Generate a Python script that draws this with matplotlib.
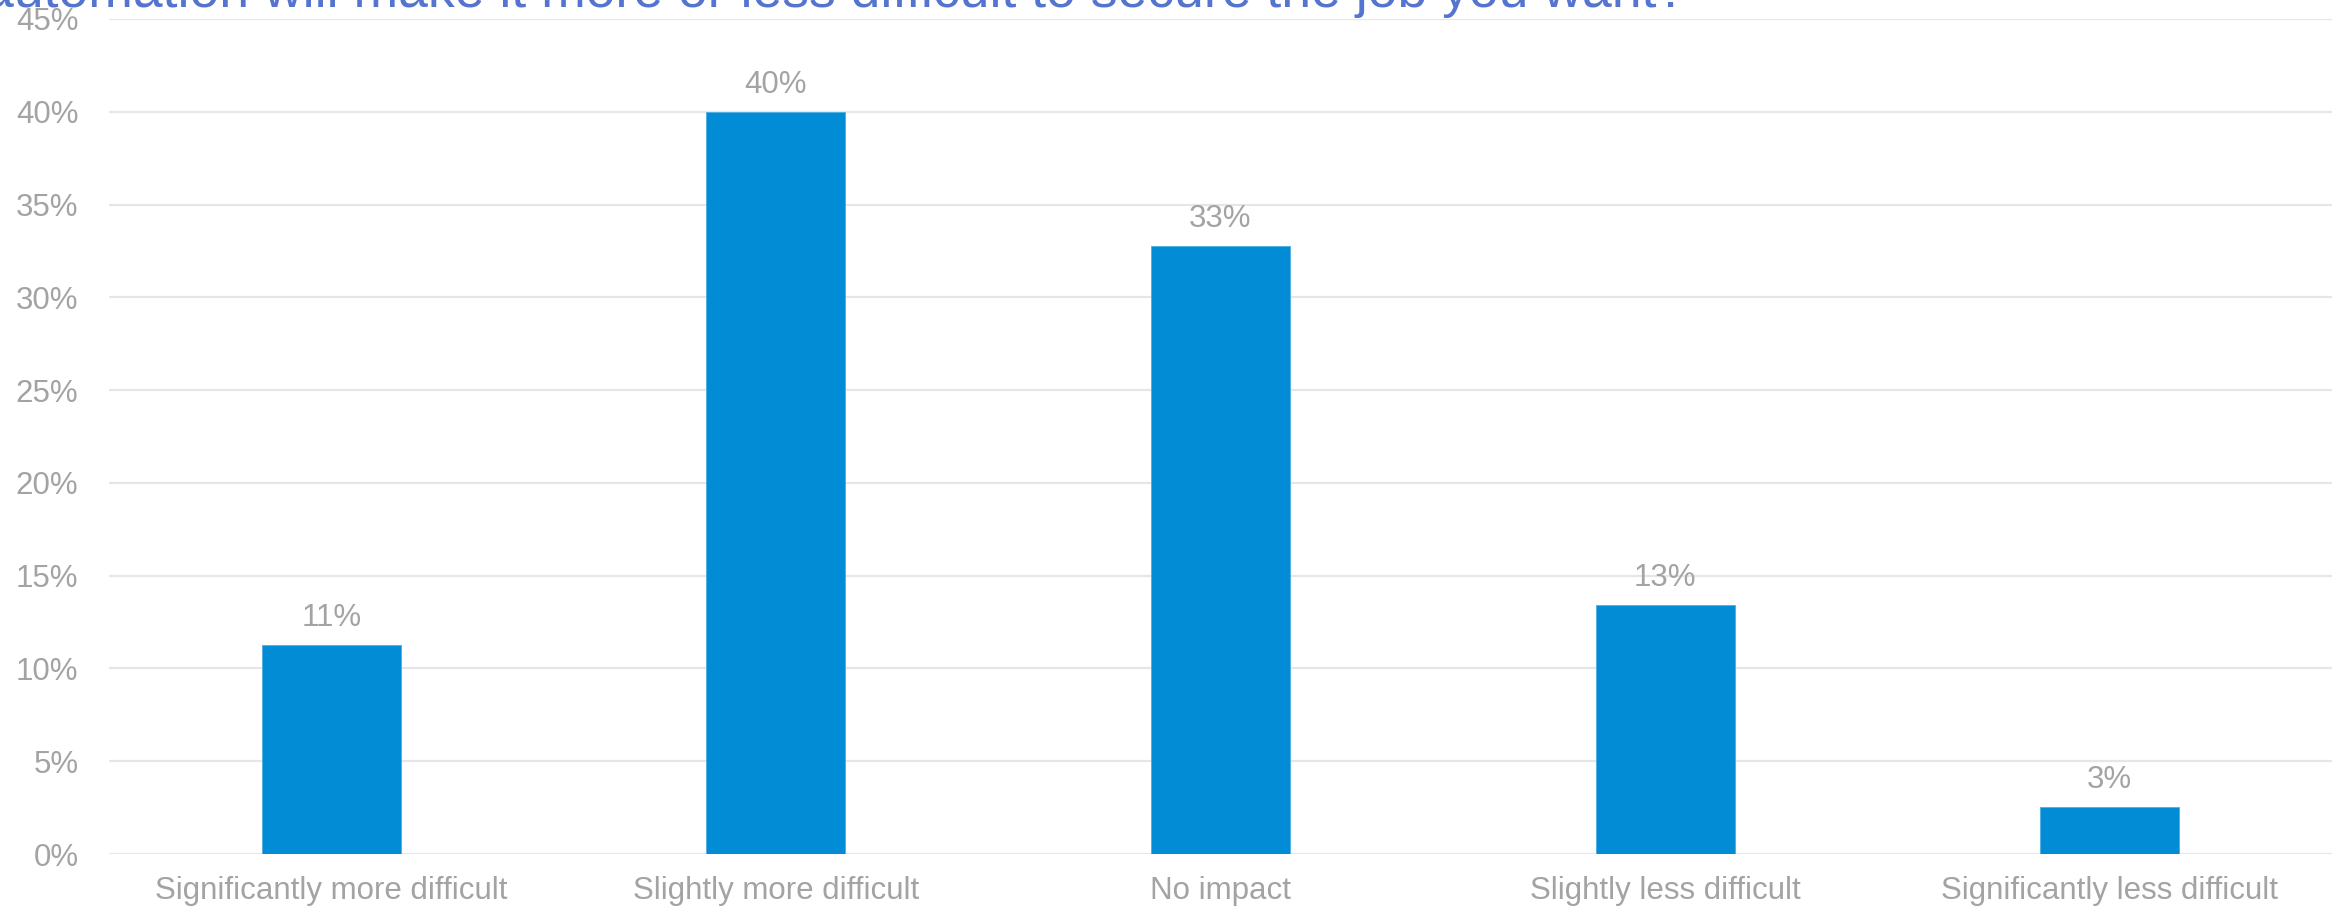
from __future__ import annotations

import matplotlib

matplotlib.use("Agg")
import matplotlib.pyplot as plt
from matplotlib.ticker import FuncFormatter, MultipleLocator


CATEGORIES = [
    "Significantly more difficult",
    "Slightly more difficult",
    "No impact",
    "Slightly less difficult",
    "Significantly less difficult",
]
SHARES = [0.1126, 0.3999, 0.3277, 0.1342, 0.0255]
TITLE = "automation will make it more or less difficult to secure the job you want?"

BAR_COLOR = "#028CD6"
TEXT_GRAY = "#A3A3A3"
GRID_GRAY = "#E6E6E6"
TITLE_BLUE = "#5574D0"

W, H, DPI = 2341, 910, 100


def _pct(value: float, _pos=None) -> str:
    return f"{value * 100:.0f}%"


def main() -> int:
    plt.rcParams["font.family"] = ["Liberation Sans", "DejaVu Sans"]

    fig = plt.figure(figsize=(W / DPI, H / DPI), dpi=DPI)
    ax = fig.add_axes([109 / W, 56 / H, (2332 - 109) / W, (854 - 19) / H])

    x = list(range(len(CATEGORIES)))
    bars = ax.bar(x, SHARES, width=0.313, color=BAR_COLOR, edgecolor="#4BAEE3", linewidth=0.6, zorder=3)

    for rect, value in zip(bars, SHARES):
        ax.annotate(
            _pct(value),
            (rect.get_x() + rect.get_width() / 2, rect.get_height()),
            xytext=(0, 13.5),
            textcoords="offset points",
            ha="center",
            va="baseline",
            fontsize=22.5,
            color=TEXT_GRAY,
        )

    ax.set_xlim(-0.5, len(CATEGORIES) - 0.5)
    ax.set_ylim(0, 0.45)
    ax.yaxis.set_major_locator(MultipleLocator(0.05))
    ax.yaxis.set_major_formatter(FuncFormatter(_pct))
    ax.set_xticks(x)
    ax.set_xticklabels(CATEGORIES)

    ax.grid(axis="y", color=GRID_GRAY, linewidth=1.6, zorder=0)
    for spine in ax.spines.values():
        spine.set_visible(False)
    ax.tick_params(axis="both", length=0, labelsize=22.5, labelcolor=TEXT_GRAY)
    ax.tick_params(axis="y", pad=22)
    ax.tick_params(axis="x", pad=16)

    # title sits partly above the canvas, as in the source image
    fig.text(1686 / W, 1 - 6.5 / H, TITLE, ha="right", va="baseline", fontsize=38.5, color=TITLE_BLUE)

    fig.savefig("out.png", dpi=DPI)
    plt.close(fig)
    return 0


if __name__ == "__main__":
    raise SystemExit(main())
